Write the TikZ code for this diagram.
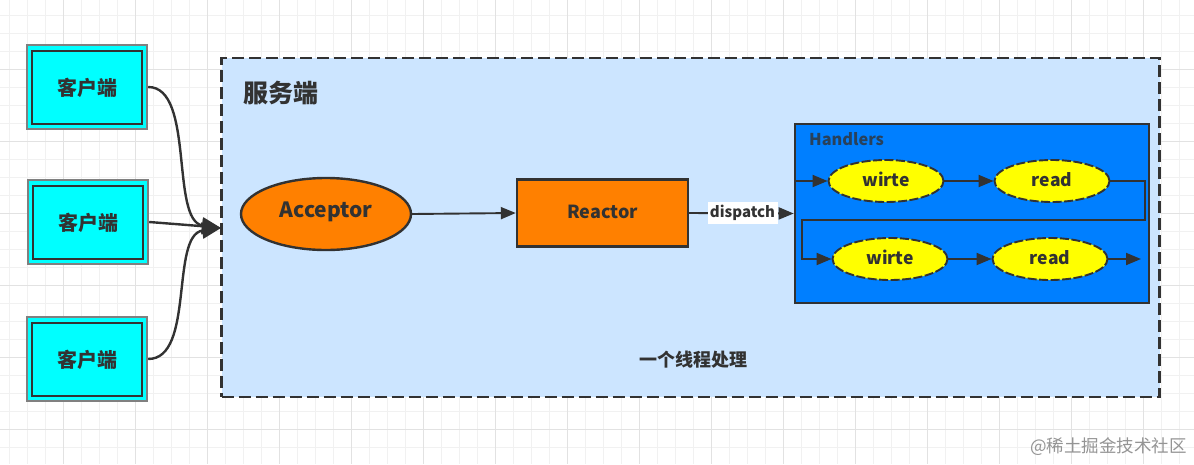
\documentclass[tikz,border=0pt]{standalone}
\usepackage{fontspec}
\setmainfont{Noto Sans CJK SC}
\usetikzlibrary{arrows.meta,shapes.geometric,calc}
\definecolor{ink}{HTML}{323232}
\definecolor{grida}{HTML}{F1F1F1}
\definecolor{gridb}{HTML}{E2E2E2}
\definecolor{srv}{HTML}{CCE5FF}
\definecolor{hblue}{HTML}{007FFF}
\definecolor{orng}{HTML}{FF8000}
\definecolor{cyanb}{HTML}{00FFFF}
\definecolor{ylw}{HTML}{FFFF00}
\tikzset{
 line/.style={draw=ink,line width=1.9pt,-{Triangle[length=15pt,width=12pt,fill=ink]}},
 thick line/.style={draw=ink,line width=2.4pt,-{Triangle[length=19pt,width=16pt,fill=ink]}},
 client/.style={draw=ink,fill=cyanb,line width=2pt,minimum width=110pt,minimum height=73pt,inner sep=0pt,font=\bfseries\fontsize{20}{20}\selectfont,text=ink},
 clientouter/.style={draw=gray,fill=cyanb,line width=2.4pt,minimum width=120pt,minimum height=84pt},
 handler/.style={ellipse,draw=ink,fill=ylw,line width=1.9pt,dash pattern=on 9pt off 2.5pt,minimum width=115pt,minimum height=42pt,inner sep=0pt,text height=13pt,text depth=2pt,font=\bfseries\fontsize{17.5}{17.5}\selectfont,text=ink},
}
\begin{document}
\begin{tikzpicture}[x=1pt,y=-1pt]
\useasboundingbox (0,0) rectangle (1194,464);
\fill[white] (0,0) rectangle (1194,464);
\foreach \i in {0,...,66} \draw[grida,line width=1pt] ({9+18*\i},0) -- ({9+18*\i},464);
\foreach \i in {0,...,25} \draw[grida,line width=1pt] (0,{15+18*\i}) -- (1194,{15+18*\i});
\foreach \i in {0,...,15} \draw[gridb,line width=1pt] ({63+72*\i},0) -- ({63+72*\i},464);
\foreach \i in {0,...,5} \draw[gridb,line width=1pt] (0,{69+72*\i}) -- (1194,{69+72*\i});

\node[draw=ink,fill=srv,line width=2.4pt,dash pattern=on 12pt off 5pt,minimum width=938pt,minimum height=339pt,inner sep=0pt] (server) at (690.5,227.5) {};
\node[font=\bfseries\fontsize{25}{25}\selectfont,text=ink] (servert) at (280.5,93) {服务端};
\node[font=\bfseries\fontsize{18}{18}\selectfont,text=ink] (thread) at (693,360) {一个线程处理};

\node[clientouter] (o1) at (87,87) {};
\node[clientouter] (o2) at (88,222) {};
\node[clientouter] (o3) at (87,359) {};
\node[client] (c1) at (87,87.5) {客户端};
\node[client] (c2) at (88,222.5) {客户端};
\node[client] (c3) at (87,359.5) {客户端};
\coordinate (in) at (221,228);

\node[ellipse,draw=ink,fill=orng,line width=2.4pt,minimum width=170pt,minimum height=72pt,inner sep=0pt,text height=14pt,text depth=8pt,font=\bfseries\fontsize{21}{21}\selectfont,text=ink] (acc) at (326,214) {Acceptor};
\node[draw=ink,fill=orng,line width=2.4pt,minimum width=171pt,minimum height=67pt,inner sep=0pt,text height=13pt,text depth=2pt,font=\bfseries\fontsize{18}{18}\selectfont,text=ink] (rea) at (602.5,213) {Reactor};

\node[draw=ink,fill=hblue,line width=2.6pt,minimum width=354pt,minimum height=179pt,inner sep=0pt] (hand) at (972,213.5) {};
\node[anchor=west,inner sep=0pt,font=\bfseries\fontsize{16.3}{16.3}\selectfont,text=ink!80!hblue] (handt) at (809,139) {Handlers};
\node[handler] (w1) at (886,181) {wirte};
\node[handler] (r1) at (1052,181) {read};
\node[handler] (w2) at (890,259) {wirte};
\node[handler] (r2) at (1050,259) {read};
\coordinate (end) at (1141,259);
\coordinate (hl) at (795,181);

\draw[thick line] (o1.east) .. controls (195,87) and (170,221) .. (in);
\draw[thick line] (o2.east) .. controls (175,224) and (200,226) .. (in);
\draw[thick line] (o3.east) .. controls (195,359) and (170,235) .. (in);
\draw[line] (acc.east) -- (rea.west);
\draw[line] (rea.east) -- (hand.west) node[pos=.51,fill=white,inner sep=0pt,minimum width=70pt,minimum height=22pt,text height=14pt,text depth=6pt,font=\bfseries\fontsize{15}{15}\selectfont,text=ink] (disp) {dispatch};
\draw[line] (hl) -- (w1.west);
\draw[line] (w1.east) -- (r1.west);
\draw[line] (r1.east) -- (1145,181) -- (1145,220) -- (802,220) -- (802,259) -- (w2.west);
\draw[line] (w2.east) -- (r2.west);
\draw[line] (r2.east) -- (end);

\node[anchor=east,inner sep=0pt,font=\fontsize{17.5}{17.5}\selectfont,text=black!42] (mark) at (1187,447) {@稀土掘金技术社区};
\end{tikzpicture}
\end{document}
